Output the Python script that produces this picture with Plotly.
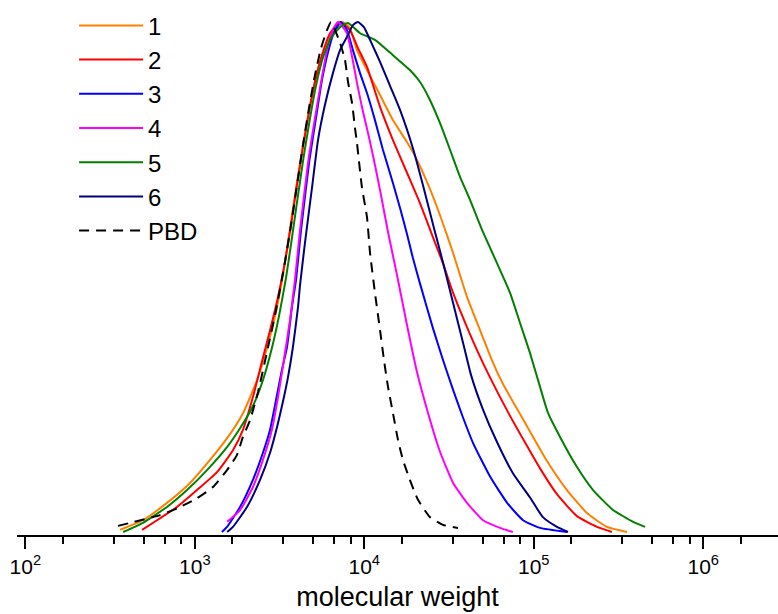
import plotly.graph_objects as go

# ---- data: log10(molecular weight) and normalized intensity ----
s1_logM = [2.559, 2.694, 2.836, 2.972, 3.090, 3.196, 3.285, 3.367, 3.426, 3.479, 3.520, 3.556, 3.591, 3.627,
           3.662, 3.698, 3.739, 3.780, 3.809, 3.874, 3.915, 3.957, 4.016, 4.093, 4.169, 4.252, 4.311, 4.370,
           4.429, 4.488, 4.524, 4.606, 4.683, 4.760, 4.813, 4.889, 4.960, 5.078, 5.196, 5.314, 5.432, 5.550]
s1_w = [0.006, 0.025, 0.059, 0.098, 0.143, 0.188, 0.235, 0.299, 0.362, 0.432, 0.505, 0.583, 0.661, 0.736,
        0.804, 0.867, 0.922, 0.959, 0.978, 1.000, 0.988, 0.945, 0.906, 0.857, 0.808, 0.765, 0.730, 0.687,
        0.638, 0.583, 0.548, 0.462, 0.397, 0.333, 0.295, 0.250, 0.209, 0.141, 0.084, 0.039, 0.012, 0.002]

s2_logM = [2.689, 2.777, 2.895, 3.013, 3.131, 3.225, 3.284, 3.343, 3.396, 3.444, 3.491, 3.532, 3.568, 3.603,
           3.638, 3.674, 3.709, 3.750, 3.798, 3.857, 3.915, 3.963, 4.016, 4.093, 4.169, 4.252, 4.328, 4.405,
           4.464, 4.524, 4.606, 4.665, 4.741, 4.847, 4.947, 5.036, 5.137, 5.255, 5.373, 5.461]
s2_w = [0.006, 0.025, 0.051, 0.084, 0.119, 0.162, 0.202, 0.266, 0.335, 0.397, 0.462, 0.530, 0.603, 0.681,
        0.755, 0.824, 0.883, 0.935, 0.978, 1.000, 0.984, 0.949, 0.912, 0.834, 0.769, 0.705, 0.646, 0.579,
        0.528, 0.470, 0.403, 0.358, 0.305, 0.237, 0.178, 0.127, 0.076, 0.033, 0.012, 0.002]

s3_logM = [3.160, 3.190, 3.267, 3.343, 3.402, 3.444, 3.485, 3.514, 3.544, 3.573, 3.597, 3.627, 3.674, 3.715,
           3.750, 3.786, 3.821, 3.862, 3.898, 3.933, 3.975, 4.016, 4.063, 4.110, 4.169, 4.211, 4.252, 4.287,
           4.328, 4.405, 4.464, 4.524, 4.577, 4.642, 4.743, 4.843, 4.937, 5.036, 5.196]
s3_w = [0.002, 0.012, 0.051, 0.104, 0.157, 0.202, 0.270, 0.319, 0.364, 0.442, 0.495, 0.593, 0.724, 0.812,
        0.886, 0.941, 0.980, 1.000, 0.984, 0.945, 0.900, 0.861, 0.808, 0.750, 0.685, 0.636, 0.585, 0.538,
        0.489, 0.401, 0.339, 0.280, 0.231, 0.176, 0.110, 0.059, 0.025, 0.010, 0.002]

s4_logM = [3.191, 3.267, 3.343, 3.402, 3.455, 3.491, 3.526, 3.562, 3.591, 3.621, 3.668, 3.709, 3.750, 3.780,
           3.815, 3.845, 3.898, 3.928, 3.957, 3.986, 4.022, 4.057, 4.093, 4.140, 4.193, 4.252, 4.311,
           4.376, 4.447, 4.524, 4.606, 4.701, 4.801, 4.877]
s4_w = [0.022, 0.045, 0.090, 0.143, 0.202, 0.266, 0.339, 0.417, 0.495, 0.593, 0.724, 0.812, 0.892, 0.945,
        0.984, 1.000, 0.978, 0.932, 0.881, 0.834, 0.783, 0.730, 0.671, 0.589, 0.505, 0.407, 0.315,
        0.235, 0.159, 0.098, 0.059, 0.025, 0.010, 0.002]

s5_logM = [2.577, 2.694, 2.836, 2.954, 3.072, 3.190, 3.267, 3.338, 3.402, 3.455, 3.497, 3.538, 3.573, 3.609,
           3.644, 3.680, 3.715, 3.756, 3.804, 3.857, 3.904, 3.975, 4.063, 4.169, 4.269, 4.328, 4.388, 4.447,
           4.506, 4.565, 4.624, 4.695, 4.783, 4.860, 4.919, 4.978, 5.037, 5.084, 5.155, 5.255, 5.350, 5.468,
           5.586, 5.657]
s5_w = [0.002, 0.020, 0.051, 0.084, 0.123, 0.168, 0.205, 0.245, 0.299, 0.362, 0.425, 0.499, 0.577, 0.661,
        0.740, 0.812, 0.875, 0.930, 0.969, 0.990, 0.998, 0.978, 0.965, 0.935, 0.906, 0.883, 0.847, 0.802,
        0.750, 0.697, 0.652, 0.593, 0.528, 0.470, 0.411, 0.352, 0.286, 0.235, 0.188, 0.129, 0.084, 0.045,
        0.022, 0.012]

s6_logM = [3.191, 3.225, 3.308, 3.385, 3.444, 3.485, 3.526, 3.550, 3.579, 3.609, 3.621, 3.650, 3.692, 3.727,
           3.768, 3.815, 3.857, 3.898, 3.933, 3.963, 3.998, 4.034, 4.093, 4.152, 4.211, 4.287, 4.346, 4.411,
           4.464, 4.524, 4.583, 4.630, 4.701, 4.783, 4.877, 4.977, 5.054, 5.137, 5.202]
s6_w = [0.002, 0.012, 0.051, 0.104, 0.157, 0.207, 0.266, 0.305, 0.364, 0.442, 0.485, 0.568, 0.677, 0.769,
        0.838, 0.900, 0.945, 0.971, 0.994, 1.000, 0.990, 0.965, 0.922, 0.875, 0.828, 0.753, 0.681, 0.597,
        0.530, 0.450, 0.372, 0.309, 0.241, 0.178, 0.117, 0.070, 0.031, 0.012, 0.002]

pbd_logM = [2.547, 2.795, 2.901, 3.013, 3.107, 3.190, 3.249, 3.284, 3.326, 3.373, 3.426, 3.479, 3.526, 3.568,
            3.603, 3.638, 3.674, 3.709, 3.745, 3.780, 3.804, 3.857, 3.886, 3.904, 3.928, 3.945, 3.957, 3.986,
            4.016, 4.034, 4.063, 4.093, 4.116, 4.140, 4.169, 4.199, 4.228, 4.269, 4.317, 4.388, 4.464, 4.553]
pbd_w = [0.014, 0.035, 0.049, 0.068, 0.090, 0.123, 0.153, 0.188, 0.221, 0.276, 0.354, 0.436, 0.519, 0.603,
         0.681, 0.759, 0.832, 0.896, 0.949, 0.984, 1.000, 0.959, 0.926, 0.883, 0.841, 0.793, 0.763, 0.677,
         0.618, 0.548, 0.470, 0.397, 0.339, 0.286, 0.235, 0.182, 0.143, 0.104, 0.065, 0.031, 0.016, 0.010]

series_names = ["1", "2", "3", "4", "5", "6", "PBD"]
series_logM = [s1_logM, s2_logM, s3_logM, s4_logM, s5_logM, s6_logM, pbd_logM]
series_w = [s1_w, s2_w, s3_w, s4_w, s5_w, s6_w, pbd_w]
colors = ["#FF8000", "#FF0000", "#0000FF", "#FF00FF", "#008000", "#000080", "#000000"]

major_exp = [2, 3, 4, 5, 6]
major_text = ["10<sup>2</sup>", "10<sup>3</sup>", "10<sup>4</sup>", "10<sup>5</sup>", "10<sup>6</sup>"]
minor_frac = [1, 2, 3, 4, 5]  # minor ticks at k/6 of each decade's upper power

FONT = "Liberation Sans, Arial, sans-serif"

fig = go.Figure()
for name, lm, w, c in zip(series_names, series_logM, series_w, colors):
    fig.add_trace(go.Scatter(
        x=[10 ** v for v in lm], y=w, mode="lines", name=name,
        line=dict(color=c, width=2, shape="spline", smoothing=0.5,
                  dash="10px,7px" if name == "PBD" else "solid"),
    ))

minor_vals = []
for e in range(2, 8):
    for k in minor_frac:
        minor_vals.append(k * 10 ** e / 6)

fig.update_layout(
    width=778, height=614,
    margin=dict(l=17, r=0, t=10, b=79),
    paper_bgcolor="white", plot_bgcolor="white",
    font=dict(family=FONT, color="black"),
    showlegend=True,
    legend=dict(x=0.075, y=1.0128, xanchor="left", yanchor="top",
                font=dict(size=24, family=FONT, color="black"),
                bgcolor="rgba(0,0,0,0)", itemwidth=64, tracegroupgap=0),
    xaxis=dict(
        type="log", range=[1.951, 6.441],
        showgrid=False, zeroline=False,
        showline=True, linecolor="black", linewidth=2,
        ticks="outside", ticklen=12, tickwidth=2, tickcolor="black",
        tickvals=[10 ** e for e in major_exp], ticktext=major_text,
        tickfont=dict(size=21, family=FONT, color="black"),
        minor=dict(tickvals=minor_vals, ticks="outside", ticklen=7, tickwidth=2, tickcolor="black",
                   showgrid=False),
        title=dict(text="molecular weight", font=dict(size=27, family=FONT, color="black"), standoff=10),
    ),
    yaxis=dict(range=[-0.0039, 1.0235], visible=False, showgrid=False, zeroline=False),
)

fig.write_html("out.html")
